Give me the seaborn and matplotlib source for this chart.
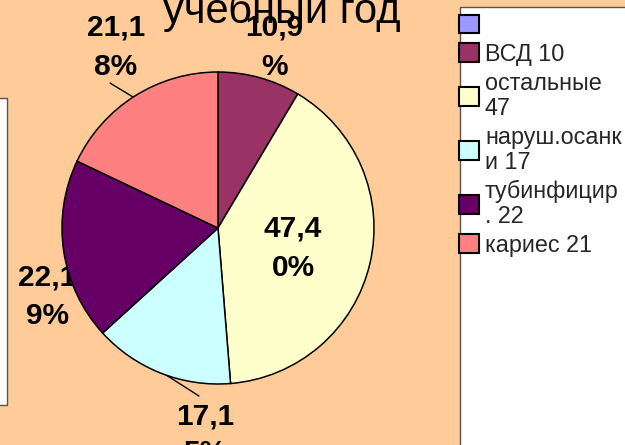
import matplotlib
matplotlib.use("Agg")
import matplotlib.pyplot as plt
from matplotlib.patches import Patch, Rectangle
import seaborn as sns

# ---------------- data ----------------
categories = ["ВСД", "остальные", "наруш.осанки", "тубинфицир.", "кариес"]
values = [10, 47, 17, 22, 21]
legend_labels = ["", "ВСД 10", "остальные\n47", "наруш.осанк\nи 17", "тубинфицир\n. 22", "кариес 21"]
pct_labels = ["10,9\n%", "47,4\n0%", "17,1\n5%", "22,1\n9%", "21,1\n8%"]
title_text = "учебный год"

# ---------------- style ----------------
sns.set_theme(style="white")
plt.rcParams["font.family"] = ["Liberation Sans", "DejaVu Sans"]

BG = "#FFCC99"
colors = ["#993366", "#FFFFCC", "#CCFFFF", "#660066", "#FF8080"]
blank_color = "#9999FF"

W, H = 625, 445
fig = plt.figure(figsize=(W / 100, H / 100), dpi=100, facecolor=BG)

# pie axes: centre (218,228) px, radius 156 px
cx, cy, r = 218, 228, 156
ax = fig.add_axes([(cx - r) / W, (H - cy - r) / H, 2 * r / W, 2 * r / H])
ax.set_facecolor("none")
ax.axis("off")

wedges, _ = ax.pie(values, colors=colors, startangle=90, counterclock=False,
                   radius=1.0, wedgeprops=dict(edgecolor="black", linewidth=1.1, zorder=2))
ax.set_xlim(-1, 1)
ax.set_ylim(-1, 1)
ax.set_aspect("equal")

# label positions (pie data coords), line spacing and layering
label_pos = [(0.359, 1.16), (0.481, -0.13), (-0.083, -1.325), (-1.096, -0.44), (-0.654, 1.16)]
label_ls = [1.5, 1.5, 1.4, 1.5, 1.5]
label_z = [1, 3, 1, 1, 1]
for txt, (lx, ly), ls, z in zip(pct_labels, label_pos, label_ls, label_z):
    ax.text(lx, ly, txt, ha="center", va="center", fontsize=21.5, fontweight="bold",
            color="black", zorder=z, clip_on=False, linespacing=ls)

# leader lines
ax.plot([-0.692, -0.545], [0.929, 0.840], color="black", lw=1.0, clip_on=False, zorder=1)
ax.plot([-0.122, -0.353], [-1.077, -0.929], color="black", lw=1.0, clip_on=False, zorder=1)

# title (partly cut at top)
fig.text(282 / W, 1 - 23 / H, title_text, ha="center", va="baseline", fontsize=30, color="black")

# left partial box
fig.patches.append(Rectangle((-10 / W, 1 - 405 / H), 17 / W, 307 / H, transform=fig.transFigure,
                             facecolor="white", edgecolor="#555555", linewidth=1.0, zorder=0))

# legend box
fig.patches.append(Rectangle((460 / W, -20 / H), 200 / W, (H + 20 - 7) / H, transform=fig.transFigure,
                             facecolor="white", edgecolor="#555555", linewidth=1.0, zorder=0))

handles = [Patch(facecolor=blank_color, edgecolor="black", linewidth=1.5)] + \
          [Patch(facecolor=c, edgecolor="black", linewidth=1.5) for c in colors]
leg = fig.legend(handles, legend_labels, loc="upper left",
                 bbox_to_anchor=(459 / W, 1 - 14 / H), bbox_transform=fig.transFigure,
                 frameon=False, fontsize=16.8, handlelength=0.85, handleheight=0.85,
                 handletextpad=0.26, labelspacing=0.25, borderpad=0, borderaxespad=0)
for t in leg.get_texts():
    t.set_linespacing(1.12)

fig.savefig("out.png", dpi=100, facecolor=BG)
